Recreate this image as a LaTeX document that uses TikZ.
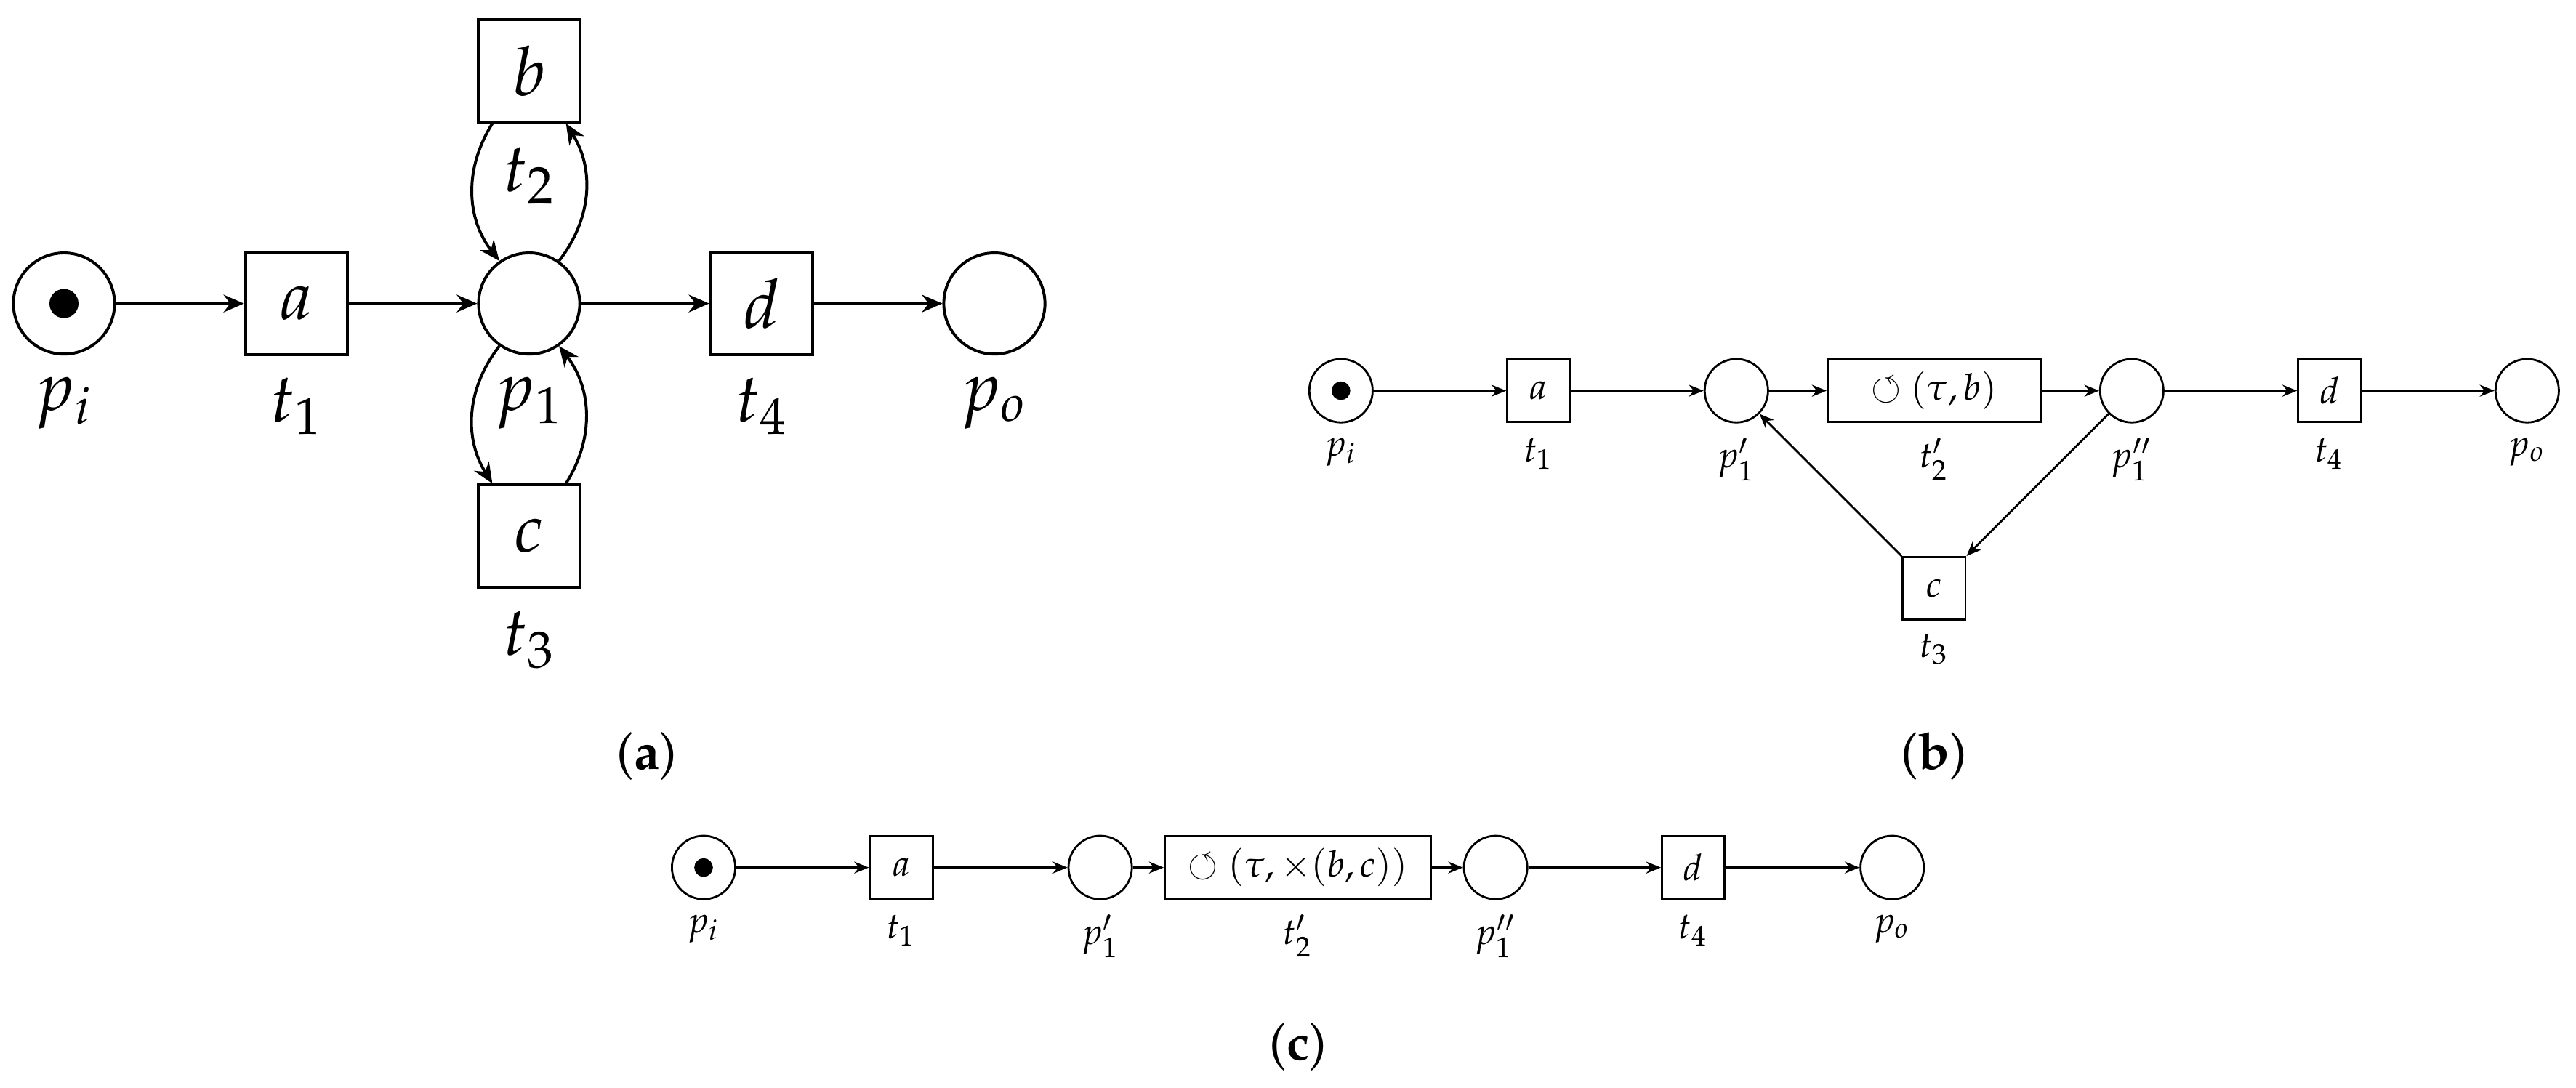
\documentclass[tikz,border=0pt]{standalone}
\usepackage[T1]{fontenc}
\usepackage{mathpazo}
\usepackage{amssymb}
\usepackage{tikz}
\usetikzlibrary{arrows.meta}
\pgfdeclarelayer{edgelayer}
\pgfdeclarelayer{nodelayer}
\pgfsetlayers{edgelayer,nodelayer,main}
\newcommand{\bigfont}{\fontsize{16.7}{20}\selectfont}
\newcommand{\smallfont}{\fontsize{9}{11}\selectfont}
\newcommand{\capfont}{\fontsize{12.5}{15}\selectfont}
\tikzstyle{none}=[inner sep=0pt]
\tikzstyle{caption}=[inner sep=0pt, font=\capfont]
\tikzstyle{lbl}=[inner sep=0pt, anchor=north, font=\bigfont]
\tikzstyle{place}=[circle, fill=white, draw=black, line width=0.7pt, minimum size=0.87cm, inner sep=0pt, font=\bigfont]
\tikzstyle{transition}=[rectangle, fill=white, draw=black, line width=0.7pt, minimum size=0.88cm, inner sep=0pt, font=\bigfont]
\tikzstyle{token}=[circle, fill=black, minimum size=0.25cm, inner sep=0pt]
\tikzstyle{flow}=[-{Stealth[length=5pt,width=4.3pt]}, draw=black, line width=0.7pt]
\tikzstyle{small lbl}=[lbl, font=\smallfont]
\tikzstyle{small place}=[place, line width=0.5pt, minimum size=0.545cm, font=\smallfont]
\tikzstyle{small transition}=[transition, line width=0.5pt, minimum size=0.54cm, font=\smallfont]
\tikzstyle{small token}=[token, minimum size=0.16cm]
\tikzstyle{small flow}=[-{Stealth[length=3.6pt,width=2.9pt]}, draw=black, line width=0.5pt]

\begin{document}
\begin{tikzpicture}
	\useasboundingbox (0, 0) rectangle (22.15, -9.356);
	\begin{pgfonlayer}{nodelayer}
		% (a)
		\node [style=place] (0) at (0.55, -2.61) {};
		\node [style=token] (1) at (0.55, -2.61) {};
		\node [style=transition] (2) at (2.55, -2.61) {$a$};
		\node [style=place] (3) at (4.55, -2.61) {};
		\node [style=transition] (4) at (6.55, -2.61) {$d$};
		\node [style=place] (5) at (8.55, -2.61) {};
		\node [style=transition] (6) at (4.55, -0.61) {$b$};
		\node [style=transition] (7) at (4.55, -4.61) {$c$};
		\node [style=lbl] (8) at (0.55, -3.24) {$p_i$};
		\node [style=lbl] (9) at (2.55, -3.24) {$t_1$};
		\node [style=lbl] (10) at (4.55, -3.24) {$p_1$};
		\node [style=lbl] (11) at (6.55, -3.24) {$t_4$};
		\node [style=lbl] (12) at (8.55, -3.24) {$p_o$};
		\node [style=lbl] (13) at (4.55, -1.26) {$t_2$};
		\node [style=lbl] (14) at (4.55, -5.25) {$t_3$};
		\node [style=caption] (15) at (5.56, -6.5) {(\textbf{a})};
		% (b)
		\node [style=small place] (16) at (11.53, -3.36) {};
		\node [style=small token] (17) at (11.53, -3.36) {};
		\node [style=small transition] (18) at (13.23, -3.36) {$a$};
		\node [style=small place] (19) at (14.93, -3.36) {};
		\node [style=small transition, minimum width=1.83cm] (20) at (16.63, -3.36) {$\circlearrowleft(\tau, b)$};
		\node [style=small place] (21) at (18.33, -3.36) {};
		\node [style=small transition] (22) at (20.03, -3.36) {$d$};
		\node [style=small place] (23) at (21.73, -3.36) {};
		\node [style=small transition] (24) at (16.63, -5.06) {$c$};
		\node [style=small lbl] (25) at (11.53, -3.76) {$p_i$};
		\node [style=small lbl] (26) at (13.23, -3.76) {$t_1$};
		\node [style=small lbl] (27) at (14.93, -3.76) {$p'_1$};
		\node [style=small lbl] (28) at (16.63, -3.76) {$t'_2$};
		\node [style=small lbl] (29) at (18.33, -3.76) {$p''_1$};
		\node [style=small lbl] (30) at (20.03, -3.76) {$t_4$};
		\node [style=small lbl] (31) at (21.73, -3.76) {$p_o$};
		\node [style=small lbl] (32) at (16.63, -5.44) {$t_3$};
		\node [style=caption] (33) at (16.63, -6.5) {(\textbf{b})};
		% (c)
		\node [style=small place] (34) at (6.05, -7.46) {};
		\node [style=small token] (35) at (6.05, -7.46) {};
		\node [style=small transition] (36) at (7.75, -7.46) {$a$};
		\node [style=small place] (37) at (9.46, -7.46) {};
		\node [style=small transition, minimum width=2.29cm] (38) at (11.16, -7.46) {$\circlearrowleft(\tau, \times(b, c))$};
		\node [style=small place] (39) at (12.86, -7.46) {};
		\node [style=small transition] (40) at (14.56, -7.46) {$d$};
		\node [style=small place] (41) at (16.27, -7.46) {};
		\node [style=small lbl] (42) at (6.05, -7.86) {$p_i$};
		\node [style=small lbl] (43) at (7.75, -7.86) {$t_1$};
		\node [style=small lbl] (44) at (9.46, -7.86) {$p'_1$};
		\node [style=small lbl] (45) at (11.16, -7.86) {$t'_2$};
		\node [style=small lbl] (46) at (12.86, -7.86) {$p''_1$};
		\node [style=small lbl] (47) at (14.56, -7.86) {$t_4$};
		\node [style=small lbl] (48) at (16.27, -7.86) {$p_o$};
		\node [style=caption] (49) at (11.16, -9.0) {(\textbf{c})};
	\end{pgfonlayer}
	\begin{pgfonlayer}{edgelayer}
		\draw [style=flow] (0) to (2);
		\draw [style=flow] (2) to (3);
		\draw [style=flow] (3) to (4);
		\draw [style=flow] (4) to (5);
		\draw [style=flow, bend right=35] (6) to (3);
		\draw [style=flow, bend right=35] (3) to (6);
		\draw [style=flow, bend right=35] (3) to (7);
		\draw [style=flow, bend right=35] (7) to (3);
		\draw [style=small flow] (16) to (18);
		\draw [style=small flow] (18) to (19);
		\draw [style=small flow] (19) to (20);
		\draw [style=small flow] (20) to (21);
		\draw [style=small flow] (21) to (22);
		\draw [style=small flow] (22) to (23);
		\draw [style=small flow] (21) to (24);
		\draw [style=small flow] (24) to (19);
		\draw [style=small flow] (34) to (36);
		\draw [style=small flow] (36) to (37);
		\draw [style=small flow] (37) to (38);
		\draw [style=small flow] (38) to (39);
		\draw [style=small flow] (39) to (40);
		\draw [style=small flow] (40) to (41);
	\end{pgfonlayer}
\end{tikzpicture}
\end{document}
